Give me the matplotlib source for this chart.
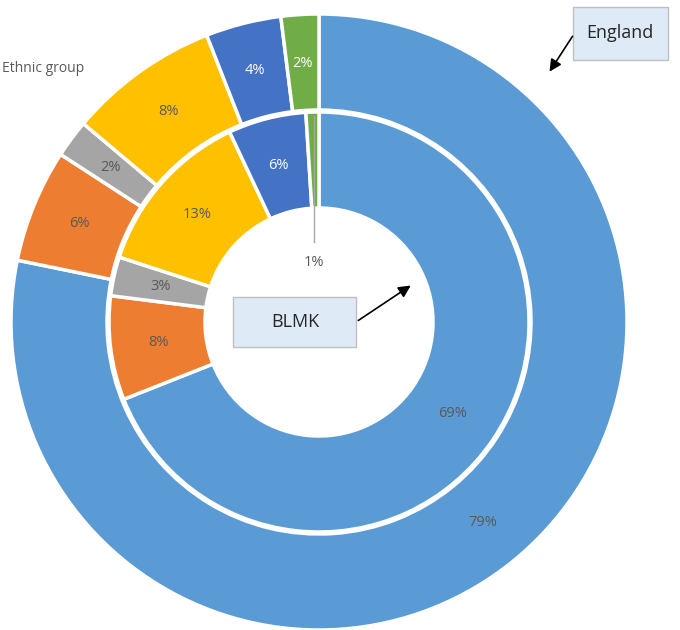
import numpy as np
import matplotlib.pyplot as plt
from matplotlib.patches import Rectangle

plt.rcParams['font.family'] = ['Open Sans', 'DejaVu Sans']

groups = ['White', 'Mixed', 'Other', 'Asian', 'Black', 'Unknown']
england = [79, 6, 2, 8, 4, 2]
blmk = [69, 8, 3, 13, 6, 1]
colors = ['#5B9BD5', '#ED7D31', '#A5A5A5', '#FFC000', '#4472C4', '#70AD47']
text_colors = ['#595959', '#595959', '#595959', '#595959', 'white', 'white']

W, H = 680, 630
fig = plt.figure(figsize=(6.8, 6.3), dpi=100)
ax = fig.add_axes([0, 0, 1, 1])


# work in pixel coords measured from the top
def py(y):
    return H - y


cx, cy = 319, 322
r_out, r_mid, r_in = 308, 210, 114

# rings: outer = England, inner = BLMK
ax.pie(england, radius=r_out, center=(cx, py(cy)), colors=colors, startangle=90,
       counterclock=False, wedgeprops=dict(width=r_out - r_mid - 2, edgecolor='white', linewidth=2.5))
ax.pie(blmk, radius=r_mid, center=(cx, py(cy)), colors=colors, startangle=90,
       counterclock=False, wedgeprops=dict(width=r_mid - r_in, edgecolor='white', linewidth=2.5))
ax.set_xlim(0, W)
ax.set_ylim(0, H)
ax.set_aspect('equal')
ax.axis('off')


def put_labels(values, r, tcols, inner=False):
    total = sum(values)
    start = 0.0
    for i, v in enumerate(values):
        mid = (start + v / 2) / total * 2 * np.pi
        start += v
        x = cx + r * np.sin(mid)
        y = cy - r * np.cos(mid)
        if inner and v == 1:
            # tiny slice: label pulled into the hole with a leader line
            ax.plot([x, x], [py(cy - r_mid + 4), py(cy - 80)], color='#A6A6A6', lw=1)
            ax.text(x, py(cy - 60), f'{v}%', ha='center', va='center', fontsize=10.5, color='#595959')
            continue
        ax.text(x, py(y), f'{v}%', ha='center', va='center', fontsize=10.5, color=tcols[i])


put_labels(england, (r_out + r_mid) / 2, text_colors)
put_labels(blmk, (r_mid + r_in) / 2, text_colors, inner=True)

# legend title
ax.text(2, py(69), 'Ethnic group', ha='left', va='center', fontsize=10, color='#595959')

ax.add_patch(Rectangle((573, py(60)), 95, 53, facecolor='#DEEBF7', edgecolor='#BFBFBF', lw=1))
ax.text(620, py(33), 'England', ha='center', va='center', fontsize=13, color='#262626')
ax.annotate('', xy=(548, py(74)), xytext=(574, py(34)),
            arrowprops=dict(arrowstyle='-|>', color='black', lw=1.2, mutation_scale=18))

ax.add_patch(Rectangle((233, py(347)), 123, 50, facecolor='#DEEBF7', edgecolor='#BFBFBF', lw=1))
ax.text(295, py(322), 'BLMK', ha='center', va='center', fontsize=13, color='#262626')
ax.annotate('', xy=(413, py(284)), xytext=(356, py(322)),
            arrowprops=dict(arrowstyle='-|>', color='black', lw=1.2, mutation_scale=18))

fig.savefig('out.png', dpi=100)
